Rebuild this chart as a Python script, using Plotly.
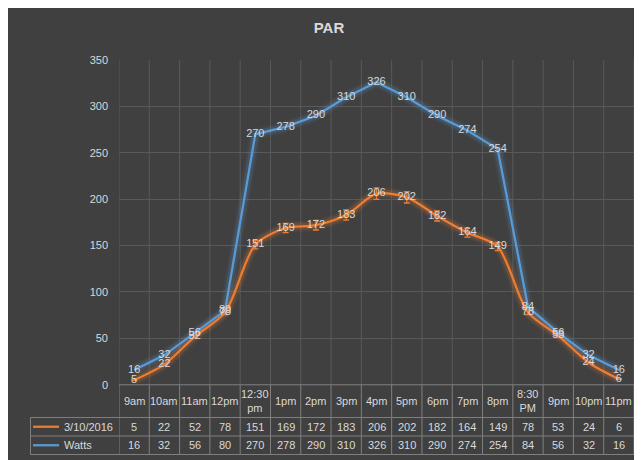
import plotly.graph_objects as go

categories = ["9am", "10am", "11am", "12pm", "12:30<br>pm", "1pm", "2pm", "3pm", "4pm",
              "5pm", "6pm", "7pm", "8pm", "8:30<br>PM", "9pm", "10pm", "11pm"]
par_3_10_2016 = [5, 22, 52, 78, 151, 169, 172, 183, 206, 202, 182, 164, 149, 78, 53, 24, 6]
watts = [16, 32, 56, 80, 270, 278, 290, 310, 326, 310, 290, 274, 254, 84, 56, 32, 16]
series_names = ["3/10/2016", "Watts"]
y_ticks = [0, 50, 100, 150, 200, 250, 300, 350]

W, H = 642, 460
BG = "#404040"
TXT = "#d9d9d9"
GRID = "#595959"
TBL = "#7f7f7f"
ORANGE = "#ED7D31"
BLUE = "#5B9BD5"
FONT = "Liberation Sans, Arial, sans-serif"

# pixel layout
PL, PR = 111, 626
PT, PB = 47.3, 380.7
ROW1_TOP, ROW2_TOP, TBL_BOTTOM = 414.3, 433.3, 452.3
LEG_LEFT = 22.5


def px(x):
    return x / W


def py(y):
    return 1 - y / H


xs = list(range(len(categories)))
fig = go.Figure()

# glow layers
for vals, col, shape in [(watts, "rgba(91,155,213,", "linear"),
                         (par_3_10_2016, "rgba(237,125,49,", "spline")]:
    for w, a in [(11, 0.08), (7, 0.16)]:
        fig.add_trace(go.Scatter(x=xs, y=vals, mode="lines",
                                 line=dict(color=col + f"{a})", width=w, shape=shape, smoothing=0.8),
                                 hoverinfo="skip", showlegend=False))

fig.add_trace(go.Scatter(x=xs, y=par_3_10_2016, mode="lines", name=series_names[0],
                         line=dict(color=ORANGE, width=2.25, shape="spline", smoothing=0.8),
                         error_y=dict(type="percent", value=3, color=ORANGE, thickness=1.3, width=3),
                         showlegend=False))
fig.add_trace(go.Scatter(x=xs, y=watts, mode="lines", name=series_names[1],
                         line=dict(color=BLUE, width=2.25), showlegend=False))

# data labels
for vals in [par_3_10_2016, watts]:
    fig.add_trace(go.Scatter(x=xs, y=vals, mode="text", text=[str(v) for v in vals],
                             textposition="middle center",
                             textfont=dict(color=TXT, size=11, family=FONT),
                             hoverinfo="skip", showlegend=False))

shapes = []
annotations = []

# vertical category boundary lines (plot grid + table)
for i in range(len(categories) + 1):
    xb = i - 0.5
    shapes.append(dict(type="line", xref="x", yref="paper", x0=xb, x1=xb,
                       y0=py(PB), y1=py(PT), line=dict(color=GRID, width=1), layer="below"))
    shapes.append(dict(type="line", xref="x", yref="paper", x0=xb, x1=xb,
                       y0=py(TBL_BOTTOM), y1=py(PB), line=dict(color=TBL, width=1)))

# horizontal table lines
shapes.append(dict(type="line", xref="paper", yref="paper", x0=px(PL), x1=px(PR),
                   y0=py(PB), y1=py(PB), line=dict(color=TBL, width=1)))
for yl in [ROW1_TOP, ROW2_TOP, TBL_BOTTOM]:
    shapes.append(dict(type="line", xref="paper", yref="paper", x0=px(LEG_LEFT), x1=px(PR),
                       y0=py(yl), y1=py(yl), line=dict(color=TBL, width=1)))
shapes.append(dict(type="line", xref="paper", yref="paper", x0=px(LEG_LEFT), x1=px(LEG_LEFT),
                   y0=py(TBL_BOTTOM), y1=py(ROW1_TOP), line=dict(color=TBL, width=1)))

# header labels
hdr_y = py((PB + ROW1_TOP) / 2)
for i, c in enumerate(categories):
    annotations.append(dict(x=i, y=hdr_y, xref="x", yref="paper", text=c, showarrow=False,
                            font=dict(color=TXT, size=11, family=FONT), align="center",
                            xanchor="center", yanchor="middle"))

# rows
rows = [(series_names[0], par_3_10_2016, ORANGE, (ROW1_TOP + ROW2_TOP) / 2),
        (series_names[1], watts, BLUE, (ROW2_TOP + TBL_BOTTOM) / 2)]
for name, vals, col, yc in rows:
    shapes.append(dict(type="line", xref="paper", yref="paper", x0=px(25), x1=px(51),
                       y0=py(yc), y1=py(yc), line=dict(color=col, width=2.25)))
    annotations.append(dict(x=px(54), y=py(yc), xref="paper", yref="paper", text=name,
                            showarrow=False, xanchor="left", yanchor="middle",
                            font=dict(color=TXT, size=11, family=FONT)))
    for i, v in enumerate(vals):
        annotations.append(dict(x=i, y=py(yc), xref="x", yref="paper", text=str(v),
                                showarrow=False, xanchor="center", yanchor="middle",
                                font=dict(color=TXT, size=11, family=FONT)))

fig.update_layout(
    width=W, height=H,
    margin=dict(l=0, r=0, t=0, b=0),
    paper_bgcolor=BG, plot_bgcolor=BG,
    title=dict(text="<b>PAR</b>", x=0.5, xanchor="center", y=py(20), yanchor="middle",
               font=dict(color=TXT, size=15, family=FONT)),
    xaxis=dict(domain=[px(PL), px(PR)], range=[-0.5, len(categories) - 0.5],
               showgrid=False, zeroline=False, showticklabels=False, ticks="",
               showline=False, fixedrange=True),
    yaxis=dict(domain=[py(PB), py(PT)], range=[0, 350], tickvals=y_ticks,
               showgrid=True, gridcolor=GRID, gridwidth=1, zeroline=False,
               showline=False, ticks="", ticklabelstandoff=10,
               tickfont=dict(color=TXT, size=11, family=FONT), fixedrange=True),
    shapes=shapes,
    annotations=annotations,
    showlegend=False,
)

fig.write_html("out.html")
